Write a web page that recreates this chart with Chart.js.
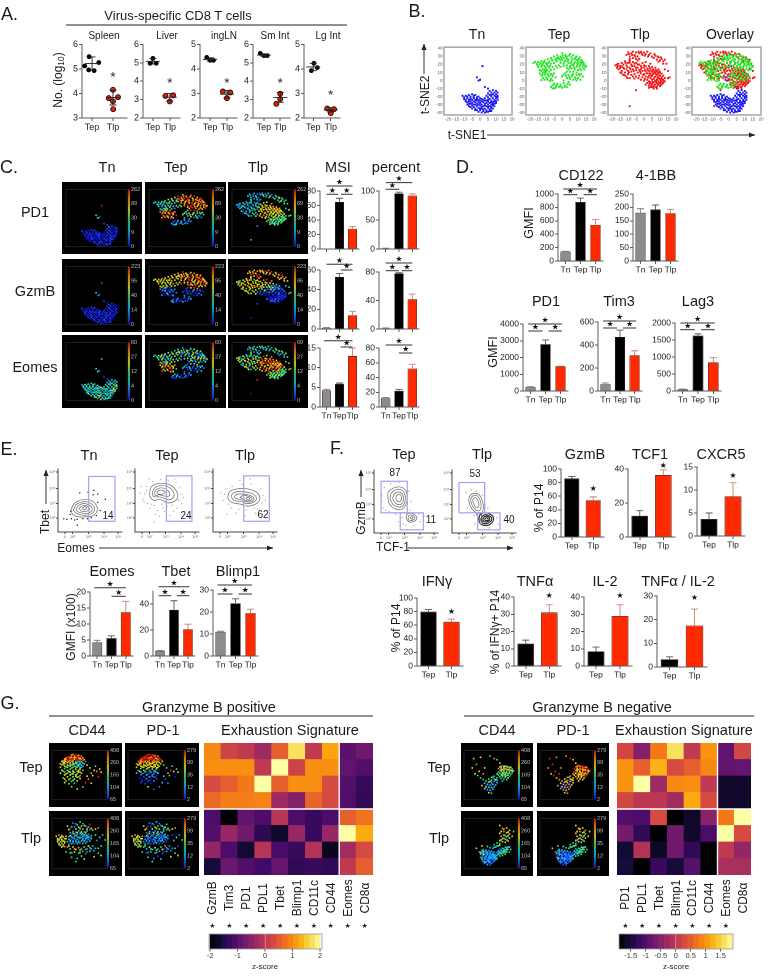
<!DOCTYPE html>
<html><head><meta charset="utf-8">
<script src="https://cdn.jsdelivr.net/npm/chart.js@4/dist/chart.umd.js"></script>
<style>
html,body{margin:0;background:#fff;width:772px;height:976px;overflow:hidden}
#page{position:relative;width:772px;height:976px;font-family:"Liberation Sans",Arial,sans-serif;color:#1a1a1a;filter:blur(.3px)}
.t{position:absolute;white-space:nowrap;transform:translate(-50%,-50%);line-height:1}
canvas{position:absolute}
svg{position:absolute;left:0;top:0}
sub{font-size:.7em;vertical-align:-.25em;line-height:0}
</style></head><body><div id="page"><svg id="ov" width="772" height="976"></svg></div>
<script>
// ---------- categories ----------
const CAT3=['Tn','Tep','Tlp'], CAT2=['Tep','Tlp'];
// ---------- Panel A: [x, log10] ----------
const aSpleenTep=[[.86,5.5],[.65,5.12],[1.32,5.26],[.84,4.96],[1.1,4.93]], aSpleenTlp=[[2,4.15],[1.8,3.81],[2.24,3.85],[2,3.68],[2.01,3.36]];
const aLiverTep=[[1,5.24],[.84,4.97],[1.2,4.97]], aLiverTlp=[[1.74,3.2],[2.2,3.23],[2,2.9]];
const aIngTep=[[.8,4.47],[1,4.35],[1.2,4.35]], aIngTlp=[[1.76,3.08],[2.2,3.04],[2,2.81]];
const aSmTep=[[.78,5.51],[1,5.39],[1.2,5.39]], aSmTlp=[[2,3.32],[2,3.03],[1.76,2.77]];
const aLgTep=[[1.04,4.23],[1.23,4.05],[.89,3.93]], aLgTlp=[[1.8,2.39],[2.19,2.36],[2,2.2]];
// ---------- t-SNE coordinates (flat x,y lists) ----------
const tnXY=[1.5,18,-2,4,-1,0,0,1,3,-8,5,-10,
6,-13,8,-12,10,-13,11,-15,7,-15,9,-15,5,-16,8,-17,10,-17,11,-19,6,-18,9,-19,4,-19,7,-20,11,-21,5,-21,8,-22,10,-22,3,-22,6,-23,9,-24,11,-24,4,-25,7,-25,10,-26,2,-24,
-11,-19,-10,-21,-9,-19,-8,-22,-7,-18,-6,-20,-5,-17,-4,-19,-3,-18,-2,-21,-1,-20,0,-22,1,-23,-9,-24,-7,-24,-6,-23,-4,-22,-3,-24,-1,-24,0,-25,2,-27,
-8,-27,-6,-26,-5,-28,-3,-27,-2,-29,0,-28,1,-30,3,-29,4,-28,6,-28,8,-27,9,-29,5,-30,7,-30,-7,-29,-5,-31,-4,-30,-2,-32,0,-31,2,-32,4,-32,6,-32,8,-31,
-6,-33,-4,-33,-3,-35,-1,-34,1,-35,3,-35,5,-34,7,-33,9,-32,-2,-37,0,-37,2,-38,4,-37,6,-36,8,-35,-1,-39,1,-40,3,-40,5,-39,7,-38,
-10,-23,-8,-20,-5,-24,-7,-26,-9,-26,-4,-26,-2,-25,-1,-27,1,-26,3,-25,5,-26,7,-27,9,-26,-6,-29,-3,-30,-1,-30,1,-33,3,-31,5,-33,7,-35,-5,-35,-3,-37,0,-35,2,-36,4,-39,6,-38,-4,-21,-2,-23,-6,-22,-8,-30,-7,-32,8,-29,10,-28,10,-20,7,-18,5,-24];
const tepBase=[-3,32,-1,30,0,34,1,28,2,32,3,30,4,26,5,33,6,29,7,32,8,27,9,30,10,25,11,29,12,26,13,23,14,20,15,18,12,22,10,21,8,23,6,24,4,22,2,25,0,26,-2,27,-3,24,-1,22,1,21,3,19,5,18,7,19,9,17,11,18,13,16,14,14,12,13,10,13,8,14,6,15,4,14,6,20,9,26,3,27,-1,25,13,19,11,15,7,11,5,11,9,10,
-18,22,-16,21,-15,23,-14,20,-13,24,-12,21,-11,25,-10,22,-9,27,-8,24,-7,28,-6,25,-5,30,-5,22,-4,27,-3,28,-7,21,-9,18,-11,18,-13,17,-15,17,-14,13,-12,14,-10,14,-8,16,-6,17,-4,18,-2,19,
-14,9,-13,6,-12,10,-11,7,-10,11,-10,4,-9,8,-8,5,-8,11,-7,2,-7,8,-6,5,-5,9,-12,3,-9,1,-6,0,-11,13,-4,4,
2,9,4,7,6,5,7,8,8,4,9,7,10,3,11,6,12,8,5,2,3,3,7,1,9,0,13,5,0,5,1,0,
-7,-8,-6,-6,-5,-10,-4,-7,-3,-4,-2,-8,-1,-5,0,-9,1,-3,2,-6,3,-8,4,-2,5,-5,-4,-9];
const tepExtra=[-2.5,29,.5,31,2.5,29.5,4.5,31,6.5,26.5,8.5,29,10.5,27,12.5,24,14.5,17,11.5,20,9.5,22,7.5,21,5.5,22,3.5,24,1.5,23.5,-.5,28,5,16,7.5,16.5,9.5,19,11,23.5,13.5,21.5,3,16,1,18,-1,17,
-17,23.5,-15.5,19.5,-13.5,22,-11.5,23,-9.5,20,-8.5,22,-6.5,26,-4,25,-12.5,19,-10.5,16,-7.5,18.5,-11,11,-9.5,13,-13,12,-7,13.5,-5,14,-3,16,
-12.5,7.5,-10.5,9,-8.5,6.5,-9.5,2.5,-7.5,-.5,-6,7,-13,.5,-11,1,
2.5,6,4.5,4.5,6.5,7,8.5,2,10.5,8,11.5,1,3,11,1,7,
-6,-9.5,-3.5,-6,-1,-7.5,1.5,-8,3.5,-4.5,-5,-4];
const tlpBase=[-11,32,-10,35,-9,30,-8,34,-7,36,-6,32,-5,35,-4,30,-3,34,-2,36,-1,32,0,35,1,33,2,36,3,32,4,34,5,30,6,28,7,31,8,26,9,29,10,25,11,27,12,24,-9,27,-7,28,-5,27,-3,27,
-18,19,-17,16,-16,21,-16,14,-15,18,-14,22,-14,12,-13,16,-13,20,-12,24,-12,10,-11,14,-11,19,-10,22,-10,8,-10,12,-9,16,-9,25,-8,20,-8,11,-7,23,-7,14,-6,18,-6,8,-5,22,-5,13,-15,10,-13,7,-11,5,-9,3,-7,5,-4,25,
-4,16,-4,10,-3,20,-3,6,-2,14,-2,18,-2,9,-1,12,-1,4,-1,22,0,16,0,8,0,19,1,12,1,5,1,23,2,15,2,9,2,1,3,18,3,12,3,6,4,21,4,14,4,8,4,3,5,17,5,11,5,6,6,13,6,9,6,2,7,16,7,10,7,5,8,12,8,7,8,1,9,14,9,9,9,4,10,10,10,6,-3,13,-5,5,-2,1,0,0,3,-1,
2,-3,3,-6,4,-2,4,-8,5,-4,5,1,6,-7,6,-2,6,-10,7,-5,7,0,8,-3,8,-8,9,-5,9,-1,10,-7,10,-3,10,2,11,-5,11,-1,11,4,12,-3,12,1,12,6,13,-1,13,3,1,-5,3,-9,5,-8,8,-10,
-9,-32,-5,-12,15,3,16,4,13,14,15,12,14,21,13,26];
const tlpExtra=[-9.5,33,-7.5,32,-5.5,30,-3.5,36,-1.5,34,.5,31,2.5,30,6.5,33,8.5,30,10.5,29,9,23.5,12,21,
-17,20,-15,15.5,-14,17.5,-12.5,15,-11.5,22,-10.5,17,-9.5,10,-8.5,14,-7.5,18,-6.5,12,-6,21,-5,16,-4,20,-12,6.5,-14,9,-10.5,3,-8,7,-6,2.5,-16.5,18,-9,22.5,
-2.5,11,-1.5,16,-.5,7,.5,13,1,18,1.5,9,2.5,12.5,2.5,4,3.5,9,3.5,15.5,4.5,11.5,4.5,5.5,5.5,8,5.5,14,6.5,11,6.5,4,7.5,8,7.5,13,8.5,10,8.5,4,9.5,11.5,9.5,6.5,11,8.5,-3.5,3,.5,2,
3.5,-3.5,4.5,-5.5,5.5,-2,6.5,-5,7.5,-8,8.5,-5.5,9.5,-3,10.5,-.5,10.5,-5,11.5,-3,12.5,-1,7.5,-1.5,8.5,2,11,2,6,-9];
const tepXY=tepBase.concat(tepExtra), tlpXY=tlpBase.concat(tlpExtra);
// ---------- Panel C: marker intensity per point (0 blue .. 9 red) ----------
const tnPd1="9532112101001001100101100100011010010010110100010011000100101001001011000101001010010010100100110010";
const tnGzmB="9412101100101001100100101001110010010010100101000101100100100110010010101100011002010010100110010010100";
const tnEomes="8532102354323524354263423563524323543243523463524362354234352436523423542635243523452635342463524352434325436243524353624352436253425363425";
const tepPd1="98798978698789879798897869787998786978897989678998"+"3243525463756423335243456354"+"898789798697887869"+"3562452367324563"+"21323142312324"+"989879878987987898789787"+"34352646332453423"+"89879788"+"35634256"+"212321";
const tepGzmB="87986797689787967897869798678796789867979687897978"+"6776857678697666757687676857"+"201312021031201302"+"1012012101201012"+"32012103201231"+"786978976897897678797869"+"67586768757685767"+"20130120"+"10201210"+"320120";
const tepEomes="35261734274516342735163427351634273516342735163456"+"3463527364253647352648352635"+"789869786957879634"+"2310231432103231"+"13021301320231"+"536274153627415362734152"+"34635274635264736"+"78968795"+"23102314"+"130213";
const tlpPd1="3241352143523462353457453243"+"32342313423534233423134532432341"+"676786578687567676578687678567877678786786578678"+"456356465345634564356456345634"+"32453654"+"324152346354"+"23423134253423153423"+"6787657867856786578678567"+"456345634563456";
const tlpGzmB="7898678978697879678797876798"+"67586778675867567687586767586758"+"768268461873851962074185106213105102003101062100".slice(0,48)+"010201101001201010100102012010"+"01353478"+"789678978967"+"67586776586757686758"+"5762517260625121015100210"+"010201010010201";
const tlpEomes="3524354235243542536452435234"+"56473647536475368546375647365473"+"798789689978798678978689798689897978689678978798"+"564536745635465345673456453645"+"09855556"+"352435243524"+"56473654736547365473"+"8979879689789879687978967"+"564536456345645";
const scaleLabels={pd1:['262','89','30','9','0'],gzmb:['223','95','40','14','0'],eomes:['60','27','12','4','0']};
// ---------- Panel C bars ----------
const msiPd1=[0,65,28], msiPd1E=[0,5,3], pctPd1=[1,96,92], pctPd1E=[.3,2,3];
const msiGzmB=[1,53,14], msiGzmBE=[.5,3.5,4], pctGzmB=[1,78,42], pctGzmBE=[.5,1,7];
const msiEomes=[4.2,5.9,13], msiEomesE=[.3,.2,2], pctEomes=[12,22,52], pctEomesE=[1,2,6];
// ---------- Panel D ----------
const dCd122=[140,880,540], dCd122E=[5,60,80], d41bb=[180,192,178], d41bbE=[15,17,15];
const dPd1=[230,2800,1470], dPd1E=[30,250,10], dTim3=[60,470,310], dTim3E=[10,60,40], dLag3=[50,1630,840], dLag3E=[8,50,140];
// ---------- Panel E ----------
const eEomes=[4.3,5.6,13.7], eEomesE=[.6,.7,3.4], eTbet=[4,35.5,20.5], eTbetE=[.3,7,4], eBlimp=[11,24,19.5], eBlimpE=[.3,2,1.8];
const eTnC=[[20,34,24,43,31,49,42,52,52,50,60,42,61,33,55,26,45,24,33,24,24,27,20,34],[24,35,28,43,35,47,44,48,52,45,57,38,55,31,47,27,36,27,28,30,24,35],[28,36,32,42,39,45,46,44,52,40,53,34,47,30,38,30,31,32,28,36],[33,37,37,41,43,42,48,39,49,35,44,33,37,33,33,37],[38,38,42,40,45,38,43,36,39,36,38,38]];
const eTnDots=[55,59,47,63,34,62,20,33,14,20,21,21,30,11,39,21,46,21,62,47,74,52,60,26,52,23,26,19,19,28,56,66,66,34,9,21,30,20,62,60];
const eTepC=[[23,62,25,71,33,76,45,77,56,74,64,66,67,56,62,49,52,46,45,49,38,52,30,50,24,55,23,62],[27,62,30,69,37,73,47,73,56,69,61,60,58,53,51,51,44,54,36,56,29,56,27,62],[30,62,33,67,40,70,48,68,54,62,53,57,46,57,38,59,32,58,30,62],[34,63,37,66,43,66,47,63,43,60,37,60,34,63]];
const eTepDust=[15,60,18,72,12,52,20,45,24,38,30,42,35,34,42,44,50,40,58,42,68,50,72,60,70,70,64,78,52,82,40,83,28,80,18,66,14,48,32,28,46,33,60,33,73,45,76,54,22,84,10,72,38,25,55,26,66,38,26,44,44,38,62,84,8,62,30,16];
const eTlpC=[[23,56,26,64,36,68,50,69,62,66,71,60,73,51,66,44,54,41,44,44,32,46,25,50,23,56],[28,56,32,62,42,64,53,63,63,60,68,53,63,47,54,45,44,48,34,50,28,56],[33,56,38,60,48,60,58,58,64,53,60,48,52,48,44,51,36,53,33,56],[42,55,48,58,57,56,61,52,55,49,47,52,42,55],[51,54,55,55,58,52,54,51,51,54]];
const eTlpDust=[18,60,16,50,24,44,28,38,40,36,52,35,64,38,76,46,78,58,74,68,60,76,46,75,30,72,20,68,36,30,50,26,70,36,22,28,42,82,58,84,82,50,12,62,66,30];
const eGate=[[48,89,17,88],[49,89,17,89],[48,88,17,89]];
// ---------- Panel F ----------
const fTepC=[[22,54,22,64,30,71,41,73,49,68,52,57,50,46,44,38,37,37,30,40,24,46,22,54],[25,55,27,63,33,68,41,69,47,64,49,55,47,46,42,41,36,42,29,46,25,55],[29,55,32,62,38,65,44,62,46,54,44,47,38,45,32,49,29,55],[34,55,36,60,41,61,43,55,41,50,37,50,34,55],[50,24,52,30,59,31,65,28,67,23,62,18,54,18,50,24],[53,24,55,28,60,28,64,24,60,20,55,20,53,24],[56,24,59,26,61,24,59,22,56,24]];
const fTepDust=[14,40,18,36,12,60,16,72,24,34,34,30,42,32,46,14,56,36,70,30,72,18,62,12,50,12,44,24,12,50,26,78,40,80,54,66,58,50,78,26,38,18];
const fTlpC=[[26,52,28,59,35,63,43,60,47,52,49,42,47,33,41,31,33,36,28,44,26,52],[29,52,31,57,36,60,42,56,45,48,45,39,41,35,35,39,31,45,29,52],[32,52,35,56,39,54,42,47,41,41,37,41,34,46,32,52],[38,31,40,25,44,15,48,14,46,24,47,33],[42,22,44,29,52,32,61,29,65,22,60,14,51,12,44,15,42,22],[45,22,48,27,53,29,60,26,62,21,57,16,50,15,46,18,45,22],[48,22,51,26,56,26,59,21,55,18,50,18,48,22],[51,22,53,24,56,23,56,20,52,20,51,22]];
const fTlpDust=[22,64,30,68,38,66,52,44,56,40,24,40,34,28,70,24,72,14,36,14,58,8,30,50,48,60,68,32];
const fGate=[[[11,52,32,82],[41,77,5,32]],[[11,51,32,80],[40,75,5,32]]];
const fGzmB=[86,54], fGzmBE=[3,5], fTcf1=[12.5,36.5], fTcf1E=[3,3], fCxcr5=[3.7,8.6], fCxcr5E=[1.3,3];
const fIfn=[80,65], fIfnE=[3,4], fTnf=[13,31], fTnfE=[2,4.5], fIl2=[8.5,29], fIl2E=[2.5,6.5], fDouble=[3.3,17.5], fDoubleE=[1,7];
// ---------- Panel G heatmaps (z-scores) ----------
const posCols=['GzmB','Tim3','PD1','PDL1','Tbet','Blimp1','CD11c','CD44','Eomes','CD8α'];
const posRows=[[.95,.2,.05,-.3,.55,1.7,.05,1.2,-.95,-.75],[1,1,1,.05,2,.2,1,1,-.9,-1.05],[.3,.55,.8,2,.55,1,1,.3,-1.05,-1.3],[.65,.85,.85,.9,-.3,-.55,.6,.3,-1.05,-1.35],
[-1.1,-2,-.9,-1.1,-.05,-1.1,-1.3,-1.1,.55,.75],[-1.05,-.35,-.75,-1.4,-1.7,-.35,-1.3,-.35,2,1.25],[-.4,-1.1,-1.65,-.05,-1.15,-1.3,-.1,-1.8,-.25,.3],[-1.6,-.8,-1.05,-1.2,-.85,-1.35,-1.3,-1.35,.05,.55]];
const negCols=['PD1','PDL1','Tbet','Blimp1','CD11c','CD44','Eomes','CD8α'];
const negRows=[[.25,-.55,.8,1.7,.05,1.05,-.9,.25],[1.05,.55,1.3,.3,.55,.95,-.9,-.85],[1.05,2,-.3,.95,1,.05,-1.7,-1.7],[.25,0,0,-.25,1.25,.3,-1.7,-1.7],
[-1.05,-1.1,.3,-2,-1.7,-.5,.8,2],[-.7,-1.35,-2,-.75,-1.7,-1.1,2,.3],[-1.65,-.1,-1.75,-.75,-1.35,-2,.05,-.4],[-1.6,-2,-1.3,-1.6,-1,-2,-.2,-.2]];
const posBins=[-2,-1.8,-1.6,-1.4,-1.2,-1,-.8,-.6,-.4,-.2,0,.2,.4,.6,.8,1,1.2,1.4,1.6,1.8,2];
const negBins=[-1.89,-1.7,-1.51,-1.32,-1.13,-.95,-.76,-.57,-.38,-.19,0,.19,.38,.57,.76,.95,1.13,1.32,1.51,1.7,1.89];
// ---------- Panel G scatter plots ----------
const gpTepXY=[-6,35,-4,34,-8,33,-2,33,-5,32,-9,31,-3,31,0,32,-7,30,-1,30,-11,29,-6,29,-4,29,1,29,-9,28,-2,28,-12,27,-7,27,-5,27,0,27,-10,26,-3,26,2,26,-8,25,-6,25,-1,25,-12,25,1,25,
-14,23,-11,23,-9,23,-7,23,-4,23,-2,23,0,23,3,23,-13,21,-10,21,-6,21,-3,21,1,21,-15,19,-12,19,-8,19,-5,19,-1,19,2,19,-14,17,-10,17,-7,17,-3,17,0,17,4,17,-12,15,-8,15,-5,15,-2,15,1,15,-15,13,-10,13,-6,13,-3,13,0,13,-12,11,
-8,10,-4,10,-1,10,-14,8,-10,8,-6,8,-2,8,1,8,-12,5,-8,5,-5,5,-2,5,-15,3,-10,3,-6,2,-3,2,0,3,-12,0,-8,0,-4,0,-1,-1,-10,-3,-6,-3,-3,-4,-13,-5,-8,-6,-5,-7,-1,-6,
-11,-10,-7,-11,-3,-10,-9,-15,-5,-14,-12,-13,1,-20,-3,-24,3,-13,-7,-20,7,3,9,8,11,6,13,10,14,5,10,15,6,12,8,-1,5,-7,12,-3,7,-14,4,-2,
-7,34,-3,33,-10,30,-8,29,-5,30,-2,31,-11,27,-4,27.5,-1,28,-13,24,-10,24.5,-6,23.5,-3,24.5,
-12,22,-8,20.5,-4,20,-1,21.5,-13,18,-9,16,-6,18,-2,17.5,-11,14,-7,12,-4,14,-1,12.5,
-13,6.5,-9,6,-6,5.5,-3,6,-11,2,-7,1.5,-4,-2,-9,-8,-6,-9,-2,-3,-12,-7,-1,5];
const gpTepCd44="8997899879897898797899788979"+"777533327754377643887533767433775334"+"5667657856476575676687654567"+"5564375695878675678976"+"8998798978989"+"767343764354"+"566765654565";
const gpTepPd1="9998999899989998999899998989"+"987788678877688878867787565765676765"+"6751532051423102513201310201"+"1121012137896563451023"+"9999899989998"+"777667667677"+"651321201102";
const gpTlpXY=[-18,12,-17,8,-17,3,-16,14,-16,6,-16,0,-15,10,-15,3,-15,-3,-14,13,-14,7,-14,0,-14,-6,-13,11,-13,4,-13,-2,-12,8,-12,1,-12,-5,-11,12,
-8,18,-6,20,-4,19,-2,21,0,20,2,19,4,21,-7,15,-5,16,-3,15,-1,17,1,16,3,16,5,15,-9,11,-7,11,-5,12,-3,11,-1,13,1,12,3,12,5,11,7,13,-9,7,-7,7,-5,8,-3,7,-1,9,1,8,3,8,5,7,7,8,-10,3,-8,3,-6,4,-4,3,-2,5,0,4,2,4,4,3,6,4,-9,-1,-7,0,-5,-1,-3,0,-1,1,1,0,
-6,34,-3,31,-1,36,1,33,-5,28,-2,27,0,29,3,29,5,27,7,25,-8,25,-4,24,1,24,4,24,8,22,10,24,12,26,-9,23,-10,29,6,32,
-10,-6,-8,-9,-6,-6,-4,-10,-2,-7,0,-9,2,-6,4,-9,6,-7,8,-4,-11,-14,-8,-16,-5,-14,-2,-16,1,-13,3,-17,6,-13,-7,-23,-3,-25,0,-21,-4,-30,2,-26,9,-12,12,-8,14,-4,
11,5,13,10,15,14,10,14,12,-16,17,6,9,-22,14,-20,
-17,5.5,-15.5,8,-14,4,-13,-4,-16,-2,-14.5,11,-12,3.5,-11,8,
-6,17,-3,18,0,18,3,18.5,-8,13,-4,13.5,0,14.5,2,14,4,13,-6,9.5,-2,10,0,10,2,10,4,9.5,6,10,-8,5,-4,5.5,1,6,3,5.5,-6,1.5,-2,2.5,3,1,
-4,33,2,30,4,27,-7,28,6,23,-1,25,
-9,-4,-5,-9,-1,-11,3,-10,5,-4,-7,-15,-1,-15,4,-14,7,-9,10,-8];
const gpTlpCd44="76787678767876786787"+"3323423132433224321324331324232342431342323132323432"+"76587978657876985768"+"3524354635245354635424354"+"56754543"+"76787687"+"3234232132423124323132"+"768786"+"3524364536";
const gpTlpPd1="76585768576857687568"+"2312323212421313213213222132321221312232132123121321"+"65467867546876543657"+"2413241324134214324134213"+"56784565"+"75686857"+"2313231213212312132213"+"654678"+"2413241342";
const gnTepXY=[5,14,7,16,9,15,11,14,13,13,4,11,6,12,8,13,10,12,12,11,14,10,5,8,7,9,9,10,11,9,13,8,15,7,4,5,6,6,8,7,10,6,12,5,14,4,3,2,5,3,7,4,9,3,11,2,13,1,4,0,6,0,8,1,10,-1,12,-2,5,-3,7,-3,9,-4,11,-5,6,-6,8,-7,10,-8,7,-10,
-1,-4,1,-2,3,-5,-3,-7,-1,-9,1,-7,3,-9,-5,-10,-3,-12,-1,-13,1,-11,3,-13,-7,-8,-9,-5,-6,-14,-4,-16,-2,-17,0,-16,2,-17,-5,-20,-3,-21,-1,-21,1,-20,-8,-18,-6,-23,-4,-25,-2,-26,0,-24,-3,-30,-1,-31,
-11,-1,-13,2,-10,6,-7,2,-15,12,-14,28,-9,30,1,28,-2,32,5,20,-6,12,-12,18,3,26,
6,15,8,14.5,10,14.5,12,13,6,10,8,10.5,10,9,12,8,14,7,6,8,8,5,10,4,12,3,7,2,9,1,11,0,7,-1,9,-2,
0,-4,2,-8,-2,-11,0,-13,2,-11,-4,-13,-5,-17,-3,-18,-1,-16,1,-18,-4,-23,-2,-23,-1,-27,-6,-18];
const gnTepCd44="8975786788596876543636454652"+"3453434356334343456345634"+"33434343"+"6746575657565764567656756557675".slice(0,0)+"6545765346546"+"787678567854635463"+"56756576567565";
const gnTepPd1="9899898989988989898889887978"+"8797898776876788678778767"+"78676867"+"6786587687896"+"998989878978898787"+"76578676867576";
const gnTlpXY=[-10,-14,-9,-18,-9,-23,-8,-12,-8,-16,-8,-21,-8,-27,-7,-10,-7,-15,-7,-20,-7,-25,-7,-30,-6,-13,-6,-18,-6,-23,-6,-28,-6,-33,-5,-11,-5,-16,-5,-21,-5,-26,-5,-31,-4,-14,-4,-19,-4,-24,-4,-29,-4,-35,-3,-12,-3,-17,-3,-22,-3,-27,-3,-32,-2,-15,-2,-20,-2,-25,-2,-30,-2,-36,-1,-13,-1,-18,-1,-23,-1,-28,-1,-33,0,-16,0,-21,0,-26,0,-31,1,-14,1,-19,1,-24,1,-29,2,-17,2,-22,2,-27,3,-15,3,-20,3,-25,
4,-12,4,-18,5,-14,5,-21,6,-11,6,-17,7,-13,7,-20,8,-9,8,-15,9,-11,9,-18,10,-7,10,-14,11,-10,12,-6,12,-14,13,-10,0,-8,2,-6,4,-4,-2,-7,-4,-5,1,-2,3,1,5,0,
5,5,7,3,9,2,7,8,9,7,11,4,6,12,8,14,10,11,12,9,5,17,8,20,10,18,12,16,14,12,7,25,10,26,12,22,15,20,5,30,-8,-4,-12,-8,
-9,-15,-8,-24,-7,-13,-7,-18,-6,-26,-6,-31,-5,-14,-5,-19,-5,-24,-4,-16,-4,-27,-3,-20,-3,-25,-3,-30,-2,-18,-2,-23,-2,-33,-1,-21,-1,-26,0,-19,0,-24,1,-22,1,-27,2,-20,2,-25,
4,-15,5,-9,5,-17,6,-14,7,-8,7,-16,8,-12,9,-6,9,-14,10,-10,11,-6,3,-4,5,-3,1,-6,
6,6,8,9,10,6,9,13,11,13,6,20,8,24,11,19];
const gnTlpCd44="2323213232132321232313231232132132321323123231232313223213213".slice(0,54)+"3435434535343545343434534354"+"76778687567867687656767856"+"2321232123231213231232132"+"34534634534343"+"76878675";
const gnTlpPd1="1212112321221212131212312113212212311312212131212312212211231".slice(0,54)+"3445354634543463534345634543"+"67678577867865776867578635"+"1212312131212112131221212"+"34543543453434"+"67678567";
const g1Labels=['408','260','165','104','65'], g2Labels=['279','99','35','12','2'];

// ---------- helpers ----------
Chart.defaults.animation=false;
Chart.defaults.font.family='"Liberation Sans",Arial,sans-serif';
Chart.defaults.plugins.legend.display=false;
Chart.defaults.plugins.tooltip.enabled=false;
Chart.defaults.devicePixelRatio=2;
const page=document.getElementById('page');
const AX='#5a5a5a', TXT='#222';
const pairs=a=>{const r=[];for(let i=0;i+1<a.length;i+=2)r.push({x:a[i],y:a[i+1]});return r;};
function T(html,cx,cy,size,rot,extra){const d=document.createElement('div');d.className='t';d.innerHTML=html;d.style.left=cx+'px';d.style.top=cy+'px';d.style.fontSize=size+'px';
 if(rot)d.style.transform='translate(-50%,-50%) rotate('+rot+'deg)'; if(extra)Object.assign(d.style,extra); page.appendChild(d);return d;}
function mk(left,top,w,h,cfg){const c=document.createElement('canvas');c.width=w;c.height=h;c.style.left=left+'px';c.style.top=top+'px';c.style.width=w+'px';c.style.height=h+'px';page.appendChild(c);
 cfg.options=cfg.options||{};cfg.options.responsive=false;cfg.options.maintainAspectRatio=false;return new Chart(c,cfg);}
const ov=document.getElementById('ov');
function line(x1,y1,x2,y2,w,col){const l=document.createElementNS('http://www.w3.org/2000/svg','line');[['x1',x1],['y1',y1],['x2',x2],['y2',y2],['stroke',col||'#222'],['stroke-width',w||1]].forEach(a=>l.setAttribute(a[0],a[1]));ov.appendChild(l);}
function arrow(x1,y1,x2,y2){line(x1,y1,x2,y2,1,'#333');const p=document.createElementNS('http://www.w3.org/2000/svg','polygon');
 const dx=Math.sign(x2-x1),dy=Math.sign(y2-y1),L=6,W=2.6;
 p.setAttribute('points',[x2,y2,x2-dx*L-dy*W,y2-dy*L-dx*W,x2-dx*L+dy*W,y2-dy*L+dx*W].join(','));p.setAttribute('fill','#222');ov.appendChild(p);}
const star={id:'starsig',afterDraw(ch,a,o){const ctx=ch.ctx,xs=ch.scales.x,ys=ch.scales.y,top=ch.chartArea.top;ctx.save();
 (o.err||[]).forEach((e,i)=>{if(!e)return;const m=ch.getDatasetMeta(0).data[i];const y0=ys.getPixelForValue(o.vals[i]),y1=ys.getPixelForValue(o.vals[i]+e);
   const col=o.colors[i];ctx.strokeStyle=col==='#000000'?'#555':col==='#8c8c8c'?'#777':col==='#ff2a00'?'#c98070':'#777';ctx.lineWidth=.9;ctx.beginPath();ctx.moveTo(m.x,y0);ctx.lineTo(m.x,y1);ctx.moveTo(m.x-3.5,y1);ctx.lineTo(m.x+3.5,y1);ctx.stroke();});
 ctx.fillStyle='#111';ctx.strokeStyle='#333';ctx.lineWidth=1;ctx.font='8px "DejaVu Sans"';ctx.textAlign='center';ctx.textBaseline='middle';
 (o.sig||[]).forEach(s=>{const a=xs.getPixelForValue(s[0]),b=xs.getPixelForValue(s[1]),y=top+s[2];ctx.beginPath();ctx.moveTo(a,y);ctx.lineTo(b,y);ctx.stroke();ctx.fillText('★',(a+b)/2,y-3.5);});
 (o.stars||[]).forEach(s=>ctx.fillText('★',xs.getPixelForValue(s[0]),top+s[1]));
 ctx.restore();}};
function bar(axX,right,top,bot,cats,vals,errs,max,step,o){o=o||{};const L=30,T_=22,R=8,B=16;
 const colors=o.colors||(cats.length===3?['#8c8c8c','#000000','#ff2a00']:['#000000','#ff2a00']);
 return mk(axX-L,top-T_,right-axX+L+R,bot-top+T_+B,{type:'bar',plugins:[star],data:{labels:cats,datasets:[{data:vals,backgroundColor:colors,borderColor:o.edge||'#3a1a10',borderWidth:.6,barPercentage:.7,categoryPercentage:1}]},
 options:{layout:{autoPadding:false,padding:{top:T_,right:R}},plugins:{starsig:{err:errs,vals,colors,sig:o.sig,stars:o.stars}},
 scales:{x:{type:'category',grid:{offset:false,drawOnChartArea:false,drawTicks:true,tickLength:3,color:AX},border:{color:AX},ticks:{color:TXT,font:{size:8.5},padding:1,maxRotation:0,autoSkip:false,callback(v){return o.noLabels?'':this.getLabelForValue(v);}},afterFit(s){s.height=B;}},
 y:{min:0,max,grid:{drawOnChartArea:false,drawTicks:true,tickLength:3,color:AX},border:{color:AX},ticks:{stepSize:step,color:TXT,font:{size:8.5},padding:1,callback:v=>String(v)},afterFit(s){s.width=L;}}}}});}
// Panel A plot
const meansd={id:'meansd',afterDatasetsDraw(ch,a,o){const c=ch.ctx,xs=ch.scales.x,ys=ch.scales.y;c.save();c.strokeStyle='#222';c.lineWidth=.9;
 o.mean.forEach((m,i)=>{const x=xs.getPixelForValue(i+1),y=ys.getPixelForValue(m),t=ys.getPixelForValue(m+o.sd[i]),b=ys.getPixelForValue(m-o.sd[i]);c.beginPath();c.moveTo(x-7,y);c.lineTo(x+7,y);c.moveTo(x,t);c.lineTo(x,b);c.moveTo(x-3.5,t);c.lineTo(x+3.5,t);c.moveTo(x-3.5,b);c.lineTo(x+3.5,b);c.stroke();});
 c.fillStyle='#333';c.font='14px "Liberation Sans"';c.textAlign='center';c.textBaseline='middle';c.fillText('*',xs.getPixelForValue(2),ys.getPixelForValue(o.star)+2);c.restore();}};
function dots(axX,right,xmin,xmax,ymin,ymax,tep,tlp,mean,sd,starV){const L=14,B=18,top=44,bot=118;
 return mk(axX-L,top-6,right-axX+L+6,bot-top+6+B,{type:'scatter',plugins:[meansd],data:{datasets:[{data:tep.map(p=>({x:p[0],y:p[1]})),backgroundColor:'#000',pointRadius:2.4,borderWidth:0},{data:tlp.map(p=>({x:p[0],y:p[1]})),backgroundColor:'#f01a00',borderColor:'#111',borderWidth:.9,pointRadius:2.5}]},
 options:{layout:{autoPadding:false,padding:{top:6,right:6}},plugins:{meansd:{mean,sd,star:starV}},scales:{
 x:{type:'linear',min:xmin,max:xmax,afterBuildTicks(s){s.ticks=[{value:1},{value:2}];},grid:{drawOnChartArea:false,tickLength:3,color:AX},border:{color:AX},ticks:{color:TXT,font:{size:9},padding:1,autoSkip:false,maxRotation:0,callback(v){return CAT2[v-1];}},afterFit(s){s.height=B;}},
 y:{min:ymin,max:ymax,grid:{drawOnChartArea:false,tickLength:3,color:AX},border:{color:AX},ticks:{stepSize:1,color:TXT,font:{size:9},padding:1},afterFit(s){s.width=L;}}}}});}
// Panel B plot
const frame={id:'frame',afterDraw(ch,a,o){const c=ch.ctx,r=ch.chartArea;c.save();c.strokeStyle=o.color||'#aaa';c.lineWidth=o.w||1.6;c.strokeRect(r.left,r.top,r.right-r.left,r.bottom-r.top);c.restore();}};
function tsne(x1,x2,sets){const L=10,B=9,top=44,bot=115;
 return mk(x1-L,top-1,x2-x1+L+2,bot-top+1+B,{type:'scatter',plugins:[frame],data:{datasets:sets.map(s=>({data:pairs(s[0]),backgroundColor:s[1],pointStyle:'rect',pointRadius:1.35,borderWidth:0}))},
 options:{layout:{autoPadding:false,padding:{top:1,right:2}},scales:{
 x:{type:'linear',min:-22.6,max:20,grid:{display:false,drawTicks:false},border:{display:false},ticks:{stepSize:5,includeBounds:false,autoSkip:false,maxRotation:0,color:'#555',font:{size:4.5},padding:1.5},afterFit(s){s.height=B;}},
 y:{min:-43,max:41.6,grid:{display:false,drawTicks:false},border:{display:false},ticks:{stepSize:10,includeBounds:false,autoSkip:false,color:'#555',font:{size:4.5},padding:1.5},afterFit(s){s.width=L;}}}}});}
// black flow panels
const RB=['#1414d8','#1a46ff','#1e8cff','#14cde6','#1ee6a5','#55e650','#c8e632','#ffd21e','#ff8c14','#ee1e14'];
const blackbg={id:'blackbg',beforeDraw(ch){const c=ch.ctx;c.save();c.fillStyle='#000';c.fillRect(0,0,ch.width,ch.height);c.strokeStyle='#2c2c2c';c.lineWidth=.7;const r=ch.chartArea;c.strokeRect(r.left,r.top,r.right-r.left,r.bottom-r.top);c.restore();},
 afterDraw(ch){const c=ch.ctx,r=ch.chartArea,g=c.createLinearGradient(0,r.top,0,r.bottom);[[0,'#d81414'],[.15,'#ff8c14'],[.35,'#e8e632'],[.55,'#32dc8c'],[.7,'#14cde6'],[.85,'#1e6eff'],[1,'#1414c8']].forEach(s=>g.addColorStop(s[0],s[1]));c.save();c.fillStyle=g;c.fillRect(r.right+1.2,r.top,1.6,r.bottom-r.top);c.restore();}};
function flow(px,py,w,h,xy,digits,labels,lp,rp){const pts=pairs(xy);const cols=pts.map((p,i)=>RB[+(digits[i]||'0')]);
 return mk(px,py,w,h,{type:'scatter',plugins:[blackbg],data:{datasets:[{data:pts,backgroundColor:cols,pointStyle:'rect',pointRadius:1.15,borderWidth:0,yAxisID:'y'}]},
 options:{layout:{autoPadding:false,padding:{left:lp,top:3,bottom:4}},scales:{x:{type:'linear',display:false,min:-21,max:17.5},y:{type:'linear',display:false,min:-42,max:42},
 c:{type:'category',position:'right',labels,offset:false,grid:{display:false,drawTicks:false},border:{display:false},ticks:{color:'#c4c4c4',font:{size:5.5},padding:4,autoSkip:false,maxRotation:0},afterFit(s){s.width=rp;}}}}});}
// contour panels
const gates={id:'gates',afterDatasetsDraw(ch,a,o){const c=ch.ctx,xs=ch.scales.x,ys=ch.scales.y;c.save();c.strokeStyle='#a0a2f2';c.lineWidth=1.2;o.boxes.forEach(b=>{const l=xs.getPixelForValue(b[0]),r=xs.getPixelForValue(b[1]),t=ys.getPixelForValue(b[3]),m=ys.getPixelForValue(b[2]);c.strokeRect(l,t,r-l,m-t);});c.restore();}};
const logX=[11,23,48,72,94], logY=[22,45,69,95], logLab=['0','10²','10³','10⁴','10⁵'];
function contour(axX,top,curves,dust,dotsArr,boxes,dark){const L=9,B=9,w=64,h=65;const ds=[];
 if(dust)ds.push({data:pairs(dust),backgroundColor:'#b0b0b0',pointRadius:.7,borderWidth:0});
 if(dotsArr)ds.push({data:pairs(dotsArr),backgroundColor:'#222',pointStyle:'rect',pointRadius:.9,borderWidth:0});
 curves.forEach((k,i)=>ds.push({data:pairs(k),showLine:true,tension:.4,pointRadius:0,borderColor:(dark&&i>=dark)?'#222':'#666',borderWidth:(dark&&i>=dark)?1.1:.7,fill:false}));
 return mk(axX-L,top-1,w+L+3,h+1+B,{type:'scatter',plugins:[gates],data:{datasets:ds},options:{layout:{autoPadding:false,padding:{top:1,right:3}},plugins:{gates:{boxes}},scales:{
 x:{type:'linear',min:0,max:100,afterBuildTicks(s){s.ticks=logX.map(v=>({value:v}));},grid:{drawOnChartArea:false,tickLength:2,color:'#444'},border:{color:'#444'},ticks:{autoSkip:false,maxRotation:0,color:'#666',font:{size:4},padding:.5,callback(v){return logLab[logX.indexOf(v)];}},afterFit(s){s.height=B;}},
 y:{min:0,max:100,afterBuildTicks(s){s.ticks=logY.map(v=>({value:v}));},grid:{drawOnChartArea:false,tickLength:2,color:'#444'},border:{color:'#444'},ticks:{autoSkip:false,color:'#666',font:{size:4},padding:.5,callback(v){return logLab[logY.indexOf(v)+1];}},afterFit(s){s.width=L;}}}}});}
// heatmaps
const INF=['#000004','#160b39','#420a68','#6a176e','#932667','#bc3754','#dd513a','#f37819','#fca50a','#f6d746','#fcffa4'];
function hex(h){return [1,3,5].map(i=>parseInt(h.substr(i,2),16));}
function cmap(z){let t=Math.max(0,Math.min(1,(z+2)/4))*10,i=Math.min(9,Math.floor(t)),f=t-i,a=hex(INF[i]),b=hex(INF[i+1]);return 'rgb('+a.map((v,k)=>Math.round(v+(b[k]-v)*f)).join(',')+')';}
const seps={id:'seps',afterDraw(ch,a,o){const c=ch.ctx,r=ch.chartArea;c.save();c.strokeStyle='#fff';c.lineWidth=1.4;const cw=(r.right-r.left)/o.cols;const x=r.left+cw*o.col,y=(r.top+r.bottom)/2;c.beginPath();c.moveTo(x,r.top);c.lineTo(x,r.bottom);c.moveTo(r.left,y);c.lineTo(r.right,y);c.stroke();c.restore();}};
function heat(x,y,w,h,cols,rows,sepCol){const ds=rows.slice().reverse().map(r=>({data:r.map(()=>1),backgroundColor:r.map(cmap),borderWidth:0,barPercentage:1,categoryPercentage:1}));
 return mk(x,y,w,h,{type:'bar',plugins:[seps],data:{labels:cols,datasets:ds},options:{layout:{autoPadding:false},plugins:{seps:{cols:cols.length,col:sepCol}},scales:{x:{stacked:true,display:false},y:{stacked:true,display:false,min:0,max:rows.length}}}});}
function cbar(x,y,w,h,bins,xmin,xmax,step){const P=10,B=11,ds=[];const labs=['z'];
 for(let i=0;i+1<bins.length;i++){const lo=bins[i],hi=bins[i+1];ds.push({data:[hi<=0?lo-hi:hi-lo],backgroundColor:cmap((lo+hi)/2*2/Math.max(...bins)),borderWidth:0,barPercentage:1,categoryPercentage:1,_k:hi<=0?-hi:lo});}
 const neg=ds.filter(d=>d.data[0]<0).sort((a,b)=>a._k-b._k),pos=ds.filter(d=>d.data[0]>=0);
 return mk(x-P,y-1,w+2*P,h+1+B,{type:'bar',plugins:[frame],data:{labels:labs,datasets:neg.concat(pos)},options:{indexAxis:'y',layout:{autoPadding:false,padding:{left:P,right:P,top:1}},plugins:{frame:{color:'#999',w:.8}},scales:{
 y:{stacked:true,display:false},x:{stacked:true,min:xmin,max:xmax,grid:{drawOnChartArea:false,tickLength:2.5,color:'#555'},border:{display:false},ticks:{stepSize:step,includeBounds:false,autoSkip:false,maxRotation:0,color:'#333',font:{size:7.5},padding:0,callback:v=>String(v)},afterFit(s){s.height=B;}}}}});}

// ---------- Panel A ----------
T('A.',9.5,14,18);T('Virus-specific CD8 T cells',178,15,13);line(66,25,347,25,1,'#222');
T('No. (log<sub>10</sub>)',58,80,12,-90);
[['Spleen',104],['Liver',167],['ingLN',224],['Sm Int',275],['Lg Int',328]].forEach(a=>T(a[0],a[1],36,10));
dots(82,127,.52,2.67,3,6,aSpleenTep,aSpleenTlp,[5.22,3.83],[.27,.3],4.72);
dots(143,180,.42,2.6,2,6,aLiverTep,aLiverTlp,[5.08,3.13],[.15,.2],3.98);
dots(200,237,.4,2.6,2,5,aIngTep,aIngTlp,[4.39,2.97],[.07,.15],3.49);
dots(253,290,.33,2.6,2,6,aSmTep,aSmTlp,[5.42,3.12],[.06,.27],3.98);
dots(304,340,.47,2.53,2,5,aLgTep,aLgTlp,[4.08,2.33],[.15,.09],2.99);
// ---------- Panel B ----------
T('B.',417,11,18);
[['Tn',477],['Tep',559],['Tlp',640],['Overlay',730]].forEach(a=>T(a[0],a[1],34,14));
tsne(444,514,[[tnXY,'#1a1af0']]);tsne(526,596,[[tepXY,'#1ee61e']]);tsne(608,678,[[tlpXY,'#f01414']]);
tsne(692,763,[[tepXY,'#1ee61e'],[tlpXY,'#f01414'],[tnXY,'#1a1af0']]);
T('t-SNE2',425,95,12,-90);arrow(424,74,424,44);T('t-SNE1',467,135,12);arrow(487,135,755,135);
// ---------- Panel C ----------
T('C.',9,167,18);
[['Tn',107],['Tep',176],['Tlp',258],['MSI',338],['percent',396]].forEach(a=>T(a[0],a[1],167,14.5));
T('PD1',35,212,14.5);T('GzmB',35,291,14.5);T('Eomes',35,367,14.5);
flow(62,182,80,72,tnXY,tnPd1,scaleLabels.pd1,4,15);flow(145,182,81,72,tepXY,tepPd1,scaleLabels.pd1,4,15);flow(228,182,80,72,tlpXY,tlpPd1,scaleLabels.pd1,4,15);
flow(62,259,80,73,tnXY,tnGzmB,scaleLabels.gzmb,4,15);flow(145,259,81,73,tepXY,tepGzmB,scaleLabels.gzmb,4,15);flow(228,259,80,73,tlpXY,tlpGzmB,scaleLabels.gzmb,4,15);
flow(62,335,80,73,tnXY,tnEomes,scaleLabels.eomes,4,15);flow(145,335,81,73,tepXY,tepEomes,scaleLabels.eomes,4,15);flow(228,335,80,73,tlpXY,tlpEomes,scaleLabels.eomes,4,15);
const blueTn=['#3a3acb','#000000','#ff2a00'];
bar(320,359,190.7,249.3,CAT3,msiPd1,msiPd1E,80,20,{noLabels:1,sig:[[0,2,-5],[0,.9,3.3],[1.1,2,3.3]]});
bar(379,419,190.7,249.3,CAT3,pctPd1,pctPd1E,100,50,{noLabels:1,colors:blueTn,sig:[[0,2,-8.4],[0,1,-1.7]]});
bar(320,359,270,329,CAT3,msiGzmB,msiGzmBE,60,20,{noLabels:1,sig:[[0,2,-5.7],[1.1,2,0]]});
bar(379,419,272,329,CAT3,pctGzmB,pctGzmBE,80,40,{noLabels:1,colors:blueTn,sig:[[0,2,-9],[0,1,-1.3],[1.2,2,-1.3]]});
bar(320,359,348,407,CAT3,msiEomes,msiEomesE,15,5,{sig:[[-.2,2,-7.3],[1.1,2,-1]]});
bar(379,419,348,407,CAT3,pctEomes,pctEomesE,80,20,{sig:[[0,2,-3],[1,2,5]]});
// ---------- Panel D ----------
T('D.',465,167,18);
T('CD122',581,175,14.5);T('4-1BB',656,175,14.5);T('GMFI',529,223,12.5,-90);
bar(558,603,194,261,CAT3,dCd122,dCd122E,1000,200,{sig:[[-.15,2.1,-5],[-.15,.8,.7],[1.2,2.1,.7]]});
bar(633,678,194,261,CAT3,d41bb,d41bbE,250,50);
T('PD1',546,301,14.5);T('Tim3',619,301,14.5);T('Lag3',698,301,14.5);T('GMFI',493,352,12.5,-90);
bar(523,568,324,391,CAT3,dPd1,dPd1E,4000,1000,{sig:[[-.15,2.1,0],[-.15,.8,7],[1.2,2.1,7]]});
bar(598,642,322,391,CAT3,dTim3,dTim3E,600,200,{sig:[[-.15,2.1,-1],[-.15,.8,6],[1.2,2.1,6]]});
bar(675,721,323,391,CAT3,dLag3,dLag3E,2000,500,{sig:[[-.15,2.1,0],[-.15,.8,6.7],[1.2,2.1,6.7]]});
// ---------- Panel E ----------
T('E.',9,449,18);
T('Tn',89,455,14.5);T('Tep',167,455,14.5);T('Tlp',245,455,14.5);
contour(58,467,eTnC,null,eTnDots,[eGate[0]]);contour(135,467,eTepC,eTepDust,null,[eGate[1]]);contour(213,467,eTlpC,eTlpDust,null,[eGate[2]]);
T('14',108,516,10);T('24',186,516,10);T('62',263,515,10);
T('Tbet',45,522,12,-90);arrow(46,504,46,470);T('Eomes',76,548,12);arrow(99,548,273,548);
T('Eomes',112,571,14.5);T('Tbet',176,571,14.5);T('Blimp1',238,571,14.5);T('GMFI (x100)',71,627,12,-90);
bar(90,133,592,656,CAT3,eEomes,eEomesE,20,5,{sig:[[-.2,2,-4.3],[1,2,4.3]]});
bar(153,195,591,656,CAT3,eTbet,eTbetE,50,10,{sig:[[-.1,2.1,-4.3],[-.1,.8,4.7],[1.2,2.1,4.7]]});
bar(213,258,590,656,CAT3,eBlimp,eBlimpE,30,10,{sig:[[-.2,2.1,-5],[-.2,.8,4],[1.2,2.1,4]]});
// ---------- Panel F ----------
T('F.',337,448,18);
T('Tep',404,454,14.5);T('Tlp',482,454,14.5);
contour(374,468,fTepC,fTepDust,null,fGate[0]);contour(452,468,fTlpC,fTlpDust,null,fGate[1],4);
T('87',395,473,10);T('11',431,520,10);T('53',475,474,10);T('40',509,520,10);
T('GzmB',361,518,12,-90);arrow(361,497,361,470);T('TCF-1',393,547,12);arrow(408,548,513,548);
T('GzmB',585,454,14.5);T('TCF1',650,454,14.5);T('CXCR5',721,454,14.5);T('% of P14',539,508,12,-90);
bar(561,604,469,537,CAT2,fGzmB,fGzmBE,100,20,{stars:[[1,20]]});
bar(628,675,469,537,CAT2,fTcf1,fTcf1E,40,20,{stars:[[1,-3]]});
bar(697,745,467,536,CAT2,fCxcr5,fCxcr5E,15,5,{stars:[[1,9]]});
T('IFNγ',437,581,14.5);T('TNFα',535,581,14.5);T('IL-2',605,581,14.5);T('TNFα / IL-2',678,581,14.5);
T('% of P14',396,628,12,-90);T('% of IFNγ+ P14',495,632,12,-90);
bar(417,463,598,666,CAT2,fIfn,fIfnE,100,20,{stars:[[1,14]]});
bar(514,561,597,666,CAT2,fTnf,fTnfE,40,10,{stars:[[1,-1]]});
bar(584,632,597,666,CAT2,fIl2,fIl2E,40,10,{stars:[[1,-1]]});
bar(657,707,596,667,CAT2,fDouble,fDoubleE,30,10,{stars:[[1,2]]});
// ---------- Panel G ----------
T('G.',10,703,18);
T('Granzyme B positive',209,707,14.5);line(49,716,373,716,1,'#222');
T('CD44',87,730,14.5);T('PD-1',163,730,14.5);T('Exhaustion Signature',290,730,14.5);
T('Tep',31,767,14.5);T('Tlp',31,838,14.5);
flow(49,743,73,64,gpTepXY,gpTepCd44,g1Labels,3,16);flow(125,743,74,64,gpTepXY,gpTepPd1,g2Labels,3,16);
flow(49,811,73,65,gpTlpXY,gpTlpCd44,g1Labels,3,16);flow(125,811,74,65,gpTlpXY,gpTlpPd1,g2Labels,3,16);
heat(204,743,169,132,posCols,posRows,8);
posCols.forEach((n,i)=>{const x=204+16.9*(i+.5);T(n,x,898,12,-90);T('★',x,926,7,0,{fontFamily:'"DejaVu Sans"'});});
cbar(209,934,113,15,posBins,-2.04,2.07,1);T('z-score',265,967,8);
T('Granzyme B negative',602,707,14.5);line(464,716,754,716,1,'#222');
T('CD44',497,730,14.5);T('PD-1',573,730,14.5);T('Exhaustion Signature',684,730,14.5);
T('Tep',439,767,14.5);T('Tlp',439,838,14.5);
flow(461,743,72,64,gnTepXY,gnTepCd44,g1Labels,3,16);flow(537,743,72,64,gnTepXY,gnTepPd1,g2Labels,3,16);
flow(461,811,72,65,gnTlpXY,gnTlpCd44,g1Labels,3,16);flow(537,811,72,65,gnTlpXY,gnTlpPd1,g2Labels,3,16);
heat(617,743,134,132,negCols,negRows,6);
negCols.forEach((n,i)=>{const x=617+16.75*(i+.5);T(n,x,898,12,-90);if(i<7)T('★',x,926,7,0,{fontFamily:'"DejaVu Sans"'});});
cbar(619,934,114,15,negBins,-1.89,1.91,.5);T('z-score',676,967,8);
</script></body></html>
